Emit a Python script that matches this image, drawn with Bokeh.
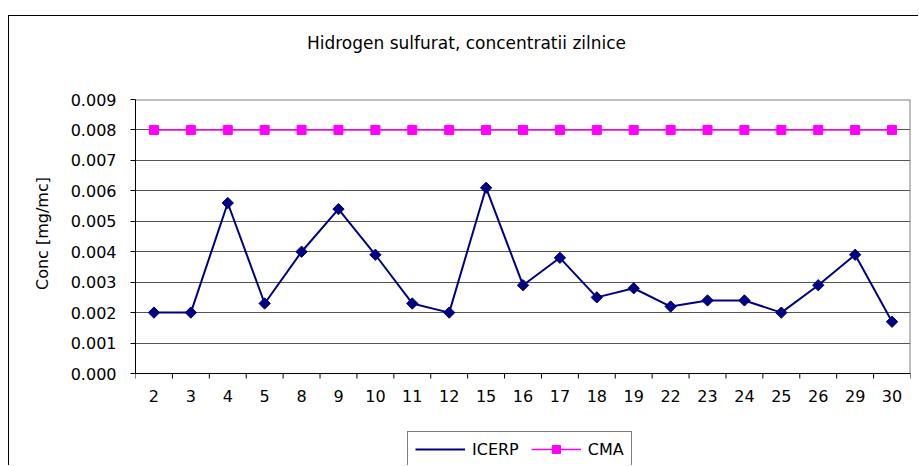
from bokeh.plotting import figure
from bokeh.models import (FixedTicker, NumeralTickFormatter, Range1d, Legend,
                          LegendItem, ColumnDataSource, Label, Span)
from bokeh.core.properties import value
from bokeh.embed import file_html
from bokeh.resources import INLINE

# ---- data ----
days = ["2", "3", "4", "5", "8", "9", "10", "11", "12", "15", "16",
        "17", "18", "19", "22", "23", "24", "25", "26", "29", "30"]
icerp = [0.0020, 0.0020, 0.0056, 0.0023, 0.0040, 0.0054, 0.0039, 0.0023,
         0.0020, 0.0061, 0.0029, 0.0038, 0.0025, 0.0028, 0.0022, 0.0024,
         0.0024, 0.0020, 0.0029, 0.0039, 0.0017]
cma = [0.008, 0.008, 0.008, 0.008, 0.008, 0.008, 0.008, 0.008, 0.008,
       0.008, 0.008, 0.008, 0.008, 0.008, 0.008, 0.008, 0.008, 0.008,
       0.008, 0.008, 0.008]
y_ticks = [0.000, 0.001, 0.002, 0.003, 0.004, 0.005, 0.006, 0.007, 0.008, 0.009]
title_text = "Hidrogen sulfurat, concentratii zilnice"
y_label = "Conc [mg/mc]"

FONT = "DejaVu Sans"

# layout (pixels)
PLOT_PX = 274          # height of the value area (0 .. 0.009)
BELOW_PX = 92          # space under the value axis kept inside the frame
TICK_PX = 5

n = len(days)
x_pos = [i + 0.5 for i in range(n)]
boundaries = [float(i) for i in range(n + 1)]
y_lo, y_hi = y_ticks[0], y_ticks[-1]
per_px = (y_hi - y_lo) / PLOT_PX
y_start = y_lo - BELOW_PX * per_px

src = ColumnDataSource(dict(x=x_pos, day=days, icerp=icerp, cma=cma))

p = figure(frame_width=775, frame_height=PLOT_PX + BELOW_PX, output_backend="svg",
           toolbar_location=None,
           x_range=Range1d(0, n), y_range=Range1d(y_start, y_hi),
           min_border_left=126, min_border_right=8, min_border_top=83,
           min_border_bottom=0,
           background_fill_color="white", border_fill_color="white")
p.styles = {"border-left": "1px solid black", "border-top": "1px solid black",
            "margin-top": "15px", "margin-left": "8px"}
p.outline_line_color = None

# title as a label in the top panel (not clipped)
title = Label(x=331, y=57, x_units="screen", y_units="screen", text=title_text,
              text_font=FONT, text_font_size="17px", text_color="black",
              text_align="center", text_baseline="middle")
p.add_layout(title, "above")

# category axis drawn inside the frame
p.xaxis.visible = False
p.xgrid.visible = False
p.add_layout(Span(location=y_lo, dimension="width", line_color="black",
                  line_width=1))
p.segment(x0=boundaries, y0=[y_lo] * (n + 1), x1=boundaries,
          y1=[y_lo - TICK_PX * per_px] * (n + 1), line_color="black",
          line_width=1)
p.text(x=x_pos, y=[y_lo] * n, text=days, y_offset=16, text_align="center",
       text_baseline="top", text_font=value(FONT), text_font_size="16px",
       text_color="black")

# y axis
ya = p.yaxis[0]
ya.bounds = (y_lo, y_hi)
ya.ticker = FixedTicker(ticks=y_ticks)
ya.formatter = NumeralTickFormatter(format="0.000")
ya.major_tick_out = 5
ya.major_tick_in = 0
ya.minor_tick_out = 0
ya.minor_tick_in = 0
ya.axis_line_color = "black"
ya.major_tick_line_color = "black"
ya.major_label_text_font = FONT
ya.major_label_text_font_size = "16px"
ya.major_label_text_color = "black"
ya.major_label_standoff = 14

# value-axis caption, centred on the 0 .. 0.009 span
ylab = Label(x=-6, y=232, x_units="screen", y_units="screen", text=y_label,
             angle=1.5708, text_font=FONT, text_font_size="16px",
             text_color="black", text_align="center", text_baseline="middle")
p.add_layout(ylab, "left")

# grid & plot-area border (right / top)
p.ygrid.ticker = FixedTicker(ticks=y_ticks)
p.ygrid.grid_line_color = "#555555"
p.ygrid.grid_line_width = 1
p.segment(x0=[float(n)], y0=[y_lo], x1=[float(n)], y1=[y_hi],
          line_color="#808080", line_width=2)
p.segment(x0=[0.0], y0=[y_hi], x1=[float(n)], y1=[y_hi],
          line_color="#808080", line_width=2)

# series
l2 = p.line("x", "cma", source=src, line_color="#FF00FF", line_width=1.5)
m2 = p.scatter("x", "cma", source=src, marker="square", size=9,
               fill_color="#FF00FF", line_color="#FF00FF")
l1 = p.line("x", "icerp", source=src, line_color="#000080", line_width=2)
m1 = p.scatter("x", "icerp", source=src, marker="square", angle=0.785398,
               size=8, fill_color="#000080", line_color="#000080")
# legend symbol for ICERP (diamond), no data of its own
m1_key = p.scatter(x=[], y=[], marker="diamond", size=12,
                   fill_color="#000080", line_color="#000080")

legend = Legend(items=[LegendItem(label="ICERP", renderers=[l1, m1_key]),
                       LegendItem(label="CMA", renderers=[l2, m2])],
                orientation="horizontal", location=(272, -2))
legend.border_line_color = "black"
legend.border_line_width = 1
legend.background_fill_color = "white"
legend.background_fill_alpha = 1
legend.label_text_font = FONT
legend.label_text_font_size = "16px"
legend.label_text_color = "black"
legend.glyph_width = 50
legend.glyph_height = 20
legend.label_height = 20
legend.label_standoff = 7
legend.spacing = 12
legend.padding = 7
legend.margin = 0
p.add_layout(legend)

with open("out.html", "w") as f:
    f.write(file_html(p, INLINE, title="Hidrogen sulfurat"))
